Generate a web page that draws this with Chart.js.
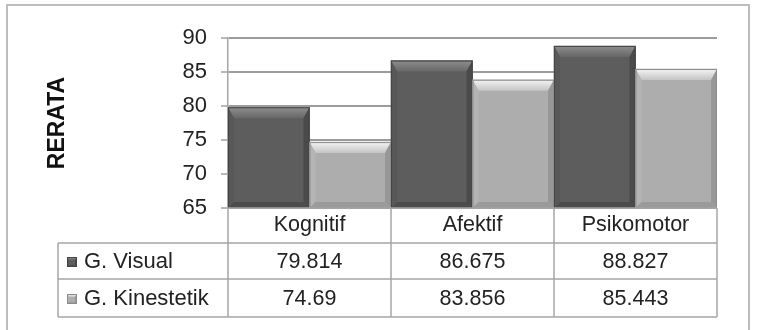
<!DOCTYPE html>
<html><head><meta charset="utf-8">
<script src="https://cdn.jsdelivr.net/npm/chart.js@4"></script>
<style>html,body{margin:0;padding:0;background:#fff}#wrap{width:758px;height:330px;position:relative}</style>
</head><body><div id="wrap"><canvas id="c" width="758" height="330"></canvas></div>
<script>
const categories = ['Kognitif', 'Afektif', 'Psikomotor'];
const seriesNames = ['G. Visual', 'G. Kinestetik'];
const visualValues = [79.814, 86.675, 88.827];
const kinestetikValues = [74.69, 83.856, 85.443];
const visualLabels = ['79.814', '86.675', '88.827'];
const kinestetikLabels = ['74.69', '83.856', '85.443'];
const yMin = 65, yMax = 90, yStep = 5;
const yTitle = 'RERATA';

const FONT = "'Liberation Sans', Arial, sans-serif";
const palettes = [
  {base:'#5d5d5d', topA:'#8e8e8e', topB:'#676767', left:'#585858', right:'#4a4a4a', bottom:'#4c4c4c', line:'#454545'},
  {base:'#adadad', topA:'#f4f4f4', topB:'#c4c4c4', left:'#b4b4b4', right:'#979797', bottom:'#9a9a9a', line:'#8c8c8c'}
];

function bevel(ctx, l, t, r, b, p, s, tb) {
  ctx.save();
  ctx.fillStyle = p.base; ctx.fillRect(l, t, r - l, b - t);
  const g = ctx.createLinearGradient(0, t, 0, t + tb);
  g.addColorStop(0, p.topA); g.addColorStop(1, p.topB);
  ctx.fillStyle = g;
  ctx.beginPath(); ctx.moveTo(l, t); ctx.lineTo(r, t); ctx.lineTo(r - s, t + tb); ctx.lineTo(l + s, t + tb); ctx.closePath(); ctx.fill();
  ctx.fillStyle = p.left;
  ctx.beginPath(); ctx.moveTo(l, t); ctx.lineTo(l + s, t + tb); ctx.lineTo(l + s, b - s); ctx.lineTo(l, b); ctx.closePath(); ctx.fill();
  ctx.fillStyle = p.right;
  ctx.beginPath(); ctx.moveTo(r, t); ctx.lineTo(r - s, t + tb); ctx.lineTo(r - s, b - s); ctx.lineTo(r, b); ctx.closePath(); ctx.fill();
  ctx.fillStyle = p.bottom;
  ctx.beginPath(); ctx.moveTo(l, b); ctx.lineTo(l + s, b - s); ctx.lineTo(r - s, b - s); ctx.lineTo(r, b); ctx.closePath(); ctx.fill();
  ctx.strokeStyle = p.line; ctx.lineWidth = 1;
  ctx.strokeRect(l + 0.5, t + 0.5, r - l - 1, b - t - 1);
  ctx.restore();
}

const framePlugin = {
  id: 'frame',
  beforeDraw(chart) {
    const ctx = chart.ctx;
    ctx.save();
    ctx.fillStyle = '#fff'; ctx.fillRect(0, 0, chart.width, chart.height);
    ctx.strokeStyle = '#bdbdbd'; ctx.lineWidth = 2;
    ctx.strokeRect(7, 5, 742, 345);
    ctx.restore();
  },
  afterDatasetsDraw(chart) {
    const ctx = chart.ctx, ca = chart.chartArea;
    chart.data.datasets.forEach((ds, i) => {
      chart.getDatasetMeta(i).data.forEach(el => {
        const l = el.x - el.width / 2, r = el.x + el.width / 2;
        const t = Math.max(el.y, ca.top), b = Math.min(el.base, ca.bottom);
        bevel(ctx, l, t, r, b, palettes[i], 6, 11);
      });
    });
  },
  afterDraw(chart) {
    const ctx = chart.ctx, xs = chart.scales.x, ca = chart.chartArea;
    const n = categories.length;
    const colW = (ca.right - ca.left) / n;
    const top = ca.bottom, bottom = ca.bottom + 109;
    const r1 = top + 35, r2 = top + 71;
    const tableLeft = 58;
    ctx.save();
    ctx.strokeStyle = '#a6a6a6'; ctx.lineWidth = 1.5;
    ctx.beginPath();
    ctx.moveTo(ca.left, top); ctx.lineTo(ca.left, bottom);
    for (let i = 0; i < n; i++) {
      const x = xs.getPixelForValue(i) + colW / 2;
      ctx.moveTo(x, top); ctx.lineTo(x, bottom);
    }
    ctx.moveTo(tableLeft, r1); ctx.lineTo(tableLeft, bottom);
    ctx.moveTo(ca.left, top); ctx.lineTo(ca.right, top);
    [r1, r2, bottom].forEach(y => { ctx.moveTo(tableLeft, y); ctx.lineTo(ca.right, y); });
    ctx.stroke();

    ctx.textBaseline = 'middle';
    const rows = [[r1, r2, visualLabels], [r2, bottom, kinestetikLabels]];
    rows.forEach((row, ri) => {
      const cy = (row[0] + row[1]) / 2 + 1;
      ctx.font = '21.5px ' + FONT;
      ctx.textAlign = 'center';
      ctx.fillStyle = '#222';
      row[2].forEach((t, i) => ctx.fillText(t, xs.getPixelForValue(i), cy));
      bevel(ctx, 67, cy - 5, 77, cy + 5, palettes[ri], 2, 3);
      ctx.font = '22px ' + FONT;
      ctx.textAlign = 'left';
      ctx.fillStyle = '#222';
      ctx.fillText(seriesNames[ri], 84, cy);
    });
    ctx.restore();
  }
};

new Chart(document.getElementById('c'), {
  type: 'bar',
  data: {
    labels: categories,
    datasets: [
      {label: seriesNames[0], data: visualValues, backgroundColor: palettes[0].base, borderWidth: 0, barPercentage: 1, categoryPercentage: 1},
      {label: seriesNames[1], data: kinestetikValues, backgroundColor: palettes[1].base, borderWidth: 0, barPercentage: 1, categoryPercentage: 1}
    ]
  },
  options: {
    responsive: false, animation: false, devicePixelRatio: 1,
    layout: {padding: {left: 40, top: 38, right: 41, bottom: 13}},
    plugins: {legend: {display: false}, tooltip: {enabled: false}},
    scales: {
      x: {
        grid: {display: false, drawTicks: false, tickLength: 0},
        border: {display: false},
        ticks: {font: {size: 21.5, family: FONT}, color: '#222', padding: 4, maxRotation: 0},
        afterFit(s) { s.height = 109; }
      },
      y: {
        min: yMin, max: yMax,
        ticks: {stepSize: yStep, font: {size: 22, family: FONT}, color: '#222', padding: 14},
        grid: {color: '#9c9c9c', lineWidth: 2, tickLength: 7, tickColor: '#a0a0a0', tickWidth: 1.5},
        border: {color: '#a6a6a6', width: 1.5},
        title: {display: true, text: yTitle, font: {size: 23, weight: 'bold', family: FONT}, color: '#111', padding: 4},
        afterFit(s) { s.width = 188; }
      }
    }
  },
  plugins: [framePlugin]
});
</script>
</body></html>
